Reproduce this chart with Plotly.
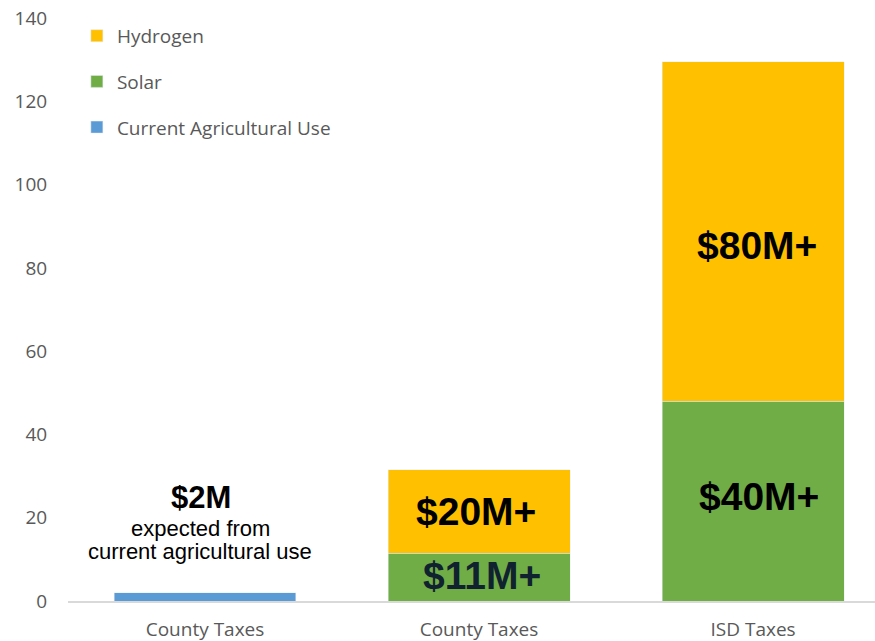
import plotly.graph_objects as go

# ---- data ----
positions = [0, 1, 2]
categories = ["County Taxes", "County Taxes", "ISD Taxes"]
agricultural = [2, None, None]
solar = [None, 11.5, 48]
hydrogen = [None, 20, 81.5]
y_ticks = [0, 20, 40, 60, 80, 100, 120, 140]

C_H = "#FFC000"
C_S = "#70AD47"
C_A = "#5B9BD5"
GRAY = "#595959"
TICKFONT = dict(family="Open Sans", size=19, color=GRAY)

fig = go.Figure()
fig.add_trace(go.Bar(x=positions, y=agricultural, name="Current Agricultural Use",
                     marker_color=C_A, legendgroup="a", legendrank=3, width=0.664))
fig.add_trace(go.Bar(x=positions, y=solar, name="Solar",
                     marker_color=C_S, legendgroup="s", legendrank=2, width=0.664))
fig.add_trace(go.Bar(x=positions, y=hydrogen, name="Hydrogen",
                     marker_color=C_H, legendgroup="h", legendrank=1, width=0.664))

big = dict(family="Liberation Sans", size=39, color="black")
ann = [
    dict(x=0, y=24.9, text="<b>$2M</b>", font=dict(family="Liberation Sans", size=31, color="black"), xshift=-4),
    dict(x=0, y=17.3, text="expected from", font=dict(family="Liberation Sans", size=22, color="black"), xshift=-5),
    dict(x=0, y=11.8, text="current agricultural use", font=dict(family="Liberation Sans", size=22, color="black"), xshift=-5),
    dict(x=1, y=21.4, text="<b>$20M+</b>", font=big, xshift=-3),
    dict(x=1, y=6.2, text="<b>$11M+</b>", font=dict(family="Liberation Sans", size=39, color="#10222f"), xshift=3),
    dict(x=2, y=85.4, text="<b>$80M+</b>", font=big, xshift=4),
    dict(x=2, y=25.0, text="<b>$40M+</b>", font=big, xshift=6),
]
for a in ann:
    a.update(xref="x", yref="y", showarrow=False, xanchor="center", yanchor="middle")

fig.update_layout(
    width=875, height=641,
    margin=dict(l=68, r=0, t=18, b=40),
    paper_bgcolor="white", plot_bgcolor="white",
    barmode="stack",
    showlegend=True,
    legend=dict(x=0.011, y=1.002, xanchor="left", yanchor="top",
                traceorder="grouped", tracegroupgap=18,
                font=dict(family="Open Sans", size=19, color=GRAY),
                bgcolor="rgba(0,0,0,0)"),
    annotations=ann,
    xaxis=dict(range=[-0.5, 2.445], tickvals=positions, ticktext=categories,
               showgrid=False, zeroline=False, showline=True, linecolor="#D9D9D9",
               linewidth=1.5, ticks="outside", ticklen=10, tickcolor="rgba(0,0,0,0)",
               tickfont=TICKFONT, fixedrange=True),
    yaxis=dict(range=[0, 140], tickvals=y_ticks, showgrid=False, zeroline=False,
               showline=False, ticks="outside", ticklen=16, tickcolor="rgba(0,0,0,0)",
               tickfont=TICKFONT, fixedrange=True),
)

fig.write_html("out.html")
